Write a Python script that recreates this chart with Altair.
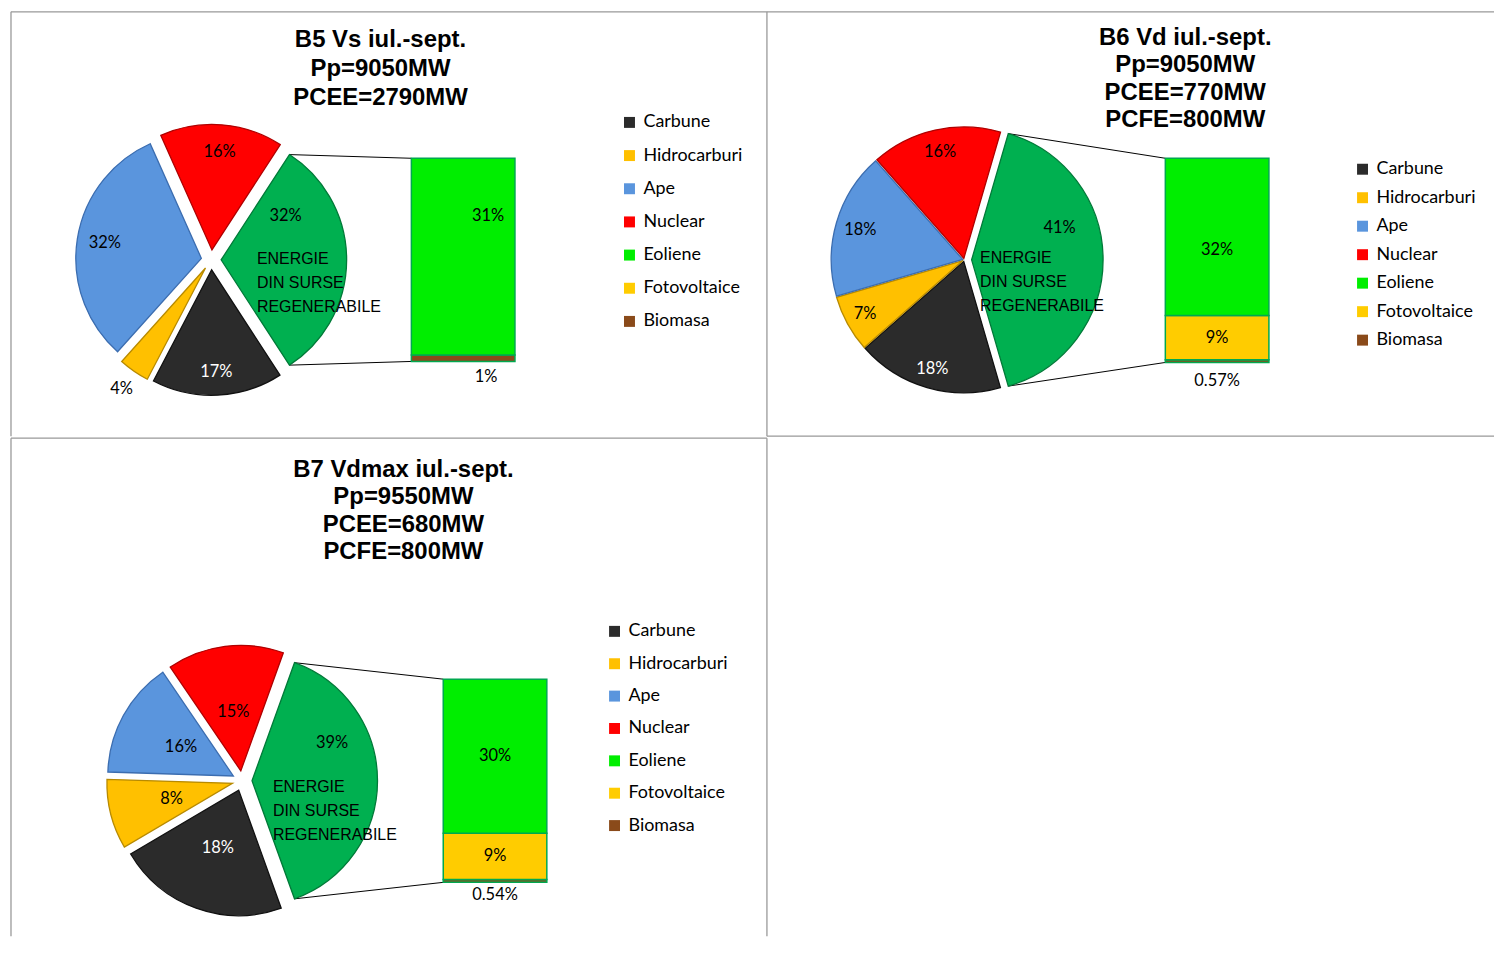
import math
import pandas as pd
import altair as alt

# ---------------- data ----------------
CATEGORIES = ["Carbune", "Hidrocarburi", "Ape", "Nuclear", "Eoliene",
              "Fotovoltaice", "Biomasa", "Regenerabile"]
LEGEND_ITEMS = ["Carbune", "Hidrocarburi", "Ape", "Nuclear", "Eoliene",
                "Fotovoltaice", "Biomasa"]
PIE_CATEGORIES = ["Regenerabile", "Carbune", "Hidrocarburi", "Ape", "Nuclear"]
BAR_CATEGORIES = ["Eoliene", "Fotovoltaice", "Biomasa"]
REGEN_TEXT = ["ENERGIE", "DIN SURSE", "\u00a0REGENERABILE"]

b5_title = ["B5 Vs iul.-sept.", "Pp=9050MW", "PCEE=2790MW"]
b5_pie_values = [32, 17, 4, 32, 16]
b5_pie_labels = ["32%", "17%", "4%", "32%", "16%"]
b5_bar_values = [31, 0, 1]
b5_bar_labels = ["31%", "", "1%"]

b6_title = ["B6 Vd iul.-sept.", "Pp=9050MW", "PCEE=770MW", "PCFE=800MW"]
b6_pie_values = [41, 18, 7, 18, 16]
b6_pie_labels = ["41%", "18%", "7%", "18%", "16%"]
b6_bar_values = [32, 9, 0.57]
b6_bar_labels = ["32%", "9%", "0.57%"]

b7_title = ["B7 Vdmax iul.-sept.", "Pp=9550MW", "PCEE=680MW", "PCFE=800MW"]
b7_pie_values = [39, 22, 9, 15, 15]
b7_pie_labels = ["39%", "18%", "8%", "16%", "15%"]
b7_bar_values = [30, 9, 0.54]
b7_bar_labels = ["30%", "9%", "0.54%"]

# ---------------- styles ----------------
FILLS = ["#2b2b2b", "#ffc000", "#5a95dd", "#ff0000", "#00ee00",
         "#ffcc00", "#8a4a1a", "#00b050"]
STROKES = ["#111111", "#b88a00", "#3b6db0", "#b00000", "#00a84f",
           "#00a84f", "#00a84f", "#007a38"]
GRID = "#999999"
LABEL_FONT = "Lato"
TITLE_FONT = "Liberation Sans"

LAYOUT = {
    "B5": dict(W=759, H=426, tx=371, ty=35, lh=29.5, cx=201, cy=249, R=126,
               explode=[10, 10, 10, 10, 10], lab_r=[78, 103, 148, 98, 99],
               lab_deg={0: 56}, en_dx=36, en_dy=4,
               bar_x=(402, 506), bar_y=(351, 147),
               top_dx=25, top_dy=-41, bio_dx=23, bio_dy=16,
               leg_x=612, leg_y=102, leg_pad=15.3,
               borders=["top", "left"]),
    "B6": dict(W=730, H=426, tx=420, ty=33, lh=27.7, cx=198, cy=249, R=132,
               explode=[7.5, 1.5, 1.5, 1.5, 1.5], lab_r=[94, 113, 112, 107, 109],
               lab_deg={0: 70}, en_dx=8.5, en_dy=3,
               bar_x=(400, 504), bar_y=(352, 147),
               top_dx=0, top_dy=13, bio_dx=0, bio_dy=19,
               leg_x=589, leg_y=149, leg_pad=10.6,
               borders=["top", "left", "bottom"]),
    "B7": dict(W=759, H=500, tx=394, ty=39, lh=27.5, cx=232, cy=344, R=126,
               explode=[10, 10, 10, 10, 10], lab_r=[89, 62, 63, 60, 60],
               lab_deg={0: 64.5}, en_dx=21, en_dy=11,
               bar_x=(434, 538), bar_y=(446, 242),
               top_dx=0, top_dy=0, bio_dx=0, bio_dy=13,
               leg_x=597, leg_y=185, leg_pad=14.5,
               borders=["top", "left", "right"]),
}


def build_panel(title, pie_values, pie_labels, bar_values, bar_labels, L):
    W, H, R = L["W"], L["H"], L["R"]
    total = sum(pie_values)
    start = math.pi / 2 - math.pi * pie_values[0] / total
    tscale = alt.Scale(domain=[0, total], range=[start, start + 2 * math.pi])
    xs = alt.Scale(domain=[0, W], range=[0, W], nice=False, zero=False)
    ys = alt.Scale(domain=[0, H], range=[0, H], nice=False, zero=False)
    cscale = alt.Scale(domain=CATEGORIES, range=FILLS)
    sscale = alt.Scale(domain=CATEGORIES, range=STROKES)
    legend = alt.Legend(values=LEGEND_ITEMS, orient="none", legendX=L["leg_x"],
                        legendY=L["leg_y"], title=None, symbolType="square",
                        symbolSize=121, symbolStrokeWidth=0, labelFont=LABEL_FONT,
                        labelFontSize=18, labelColor="black", labelOffset=5,
                        rowPadding=L["leg_pad"], padding=0)

    rows = []
    cum = 0.0
    for i, (c, v, lab) in enumerate(zip(PIE_CATEGORIES, pie_values, pie_labels)):
        t0, t1 = cum, cum + v
        cum = t1
        mid = start + 2 * math.pi * ((t0 + t1) / 2) / total
        e = L["explode"][i]
        vx = L["cx"] + e * math.sin(mid)
        vy = L["cy"] - e * math.cos(mid)
        if i in L["lab_deg"]:
            lt = (math.radians(L["lab_deg"][i]) - start) / (2 * math.pi) * total
        else:
            lt = (t0 + t1) / 2
        rows.append(dict(cat=c, t0=t0, t1=t1, vx=vx, vy=vy, lt=lt,
                         lr=L["lab_r"][i], lab=lab))
    pie = pd.DataFrame(rows)

    g = rows[0]
    a0 = start
    a1 = start + 2 * math.pi * pie_values[0] / total
    bx0, bx1 = L["bar_x"]
    bbot, btop = L["bar_y"]
    conn = pd.DataFrame([
        dict(x=g["vx"] + R * math.sin(a0), y=g["vy"] - R * math.cos(a0), x2=bx0, y2=btop),
        dict(x=g["vx"] + R * math.sin(a1), y=g["vy"] - R * math.cos(a1), x2=bx0, y2=bbot),
    ])

    one = pd.DataFrame([{"t": "\n".join(title)}])
    layers = []
    for b in L["borders"]:
        if b == "top":
            enc = dict(x=alt.value(0), x2=alt.value(W), y=alt.value(0))
        elif b == "bottom":
            enc = dict(x=alt.value(0), x2=alt.value(W), y=alt.value(H))
        elif b == "left":
            enc = dict(x=alt.value(0), y=alt.value(0), y2=alt.value(H))
        else:
            enc = dict(x=alt.value(W), y=alt.value(0), y2=alt.value(H))
        layers.append(alt.Chart(one).mark_rule(color=GRID, strokeWidth=1.3).encode(**enc))

    layers.append(alt.Chart(one).mark_text(
        lineBreak="\n", font=TITLE_FONT, fontWeight="bold", fontSize=24,
        lineHeight=L["lh"], align="center", baseline="alphabetic", color="black"
    ).encode(x=alt.value(L["tx"]), y=alt.value(L["ty"]), text="t:N"))

    layers.append(alt.Chart(conn).mark_rule(color="black", strokeWidth=1).encode(
        x=alt.X("x:Q", scale=xs, axis=None), y=alt.Y("y:Q", scale=ys, axis=None),
        x2="x2:Q", y2="y2:Q"))

    layers.append(alt.Chart(pie).mark_arc(radius=R, strokeWidth=1.3).encode(
        x=alt.X("vx:Q", scale=xs, axis=None),
        y=alt.Y("vy:Q", scale=ys, axis=None),
        theta=alt.Theta("t0:Q", scale=tscale),
        theta2="t1:Q",
        color=alt.Color("cat:N", scale=cscale, legend=legend),
        stroke=alt.Stroke("cat:N", scale=sscale, legend=None),
    ))

    layers.append(alt.Chart(pie).mark_text(
        font=LABEL_FONT, fontSize=16.5, align="center", baseline="middle"
    ).encode(
        x=alt.X("vx:Q", scale=xs, axis=None),
        y=alt.Y("vy:Q", scale=ys, axis=None),
        theta=alt.Theta("lt:Q", scale=tscale),
        radius=alt.Radius("lr:Q", scale=None),
        text="lab:N",
        color=alt.condition(alt.datum.cat == "Carbune", alt.value("white"), alt.value("black")),
    ))

    regen = pd.DataFrame([dict(vx=g["vx"], vy=g["vy"], t="\n".join(REGEN_TEXT))])
    layers.append(alt.Chart(regen).mark_text(
        lineBreak="\n", font=TITLE_FONT, fontSize=16, lineHeight=24, align="left",
        baseline="alphabetic", dx=L["en_dx"], dy=L["en_dy"], color="black"
    ).encode(x=alt.X("vx:Q", scale=xs, axis=None),
             y=alt.Y("vy:Q", scale=ys, axis=None), text="t:N"))

    pie_group = alt.layer(*layers)

    bar_rows = []
    cum = 0.0
    for c, v, lab in reversed(list(zip(BAR_CATEGORIES, bar_values, bar_labels))):
        if v <= 0:
            continue
        bar_rows.append(dict(cat=c, b0=cum, b1=cum + v, bm=cum + v / 2, lab=lab))
        cum += v
    bars = pd.DataFrame(bar_rows)
    bscale = alt.Scale(domain=[0, sum(bar_values)], range=[bbot, btop], nice=False, zero=False)
    bxc = (bx0 + bx1) / 2

    bar_layers = [alt.Chart(bars).mark_rect(stroke="#00a84f", strokeWidth=1.5).encode(
        x=alt.value(bx0), x2=alt.value(bx1),
        y=alt.Y("b0:Q", scale=bscale, axis=None), y2="b1:Q",
        color=alt.Color("cat:N", scale=cscale, legend=legend))]
    bar_layers.append(alt.Chart(bars).transform_filter(alt.datum.cat == "Eoliene").mark_text(
        font=LABEL_FONT, fontSize=16.5, align="center", baseline="middle", color="black",
        dx=L["top_dx"], dy=L["top_dy"]
    ).encode(x=alt.value(bxc), y=alt.Y("bm:Q", scale=bscale, axis=None), text="lab:N"))
    bar_layers.append(alt.Chart(bars).transform_filter(alt.datum.cat == "Fotovoltaice").mark_text(
        font=LABEL_FONT, fontSize=16.5, align="center", baseline="middle", color="black"
    ).encode(x=alt.value(bxc), y=alt.Y("bm:Q", scale=bscale, axis=None), text="lab:N"))
    bar_layers.append(alt.Chart(bars).transform_filter(alt.datum.cat == "Biomasa").mark_text(
        font=LABEL_FONT, fontSize=16.5, align="center", baseline="middle", color="black",
        dx=L["bio_dx"], dy=L["bio_dy"]
    ).encode(x=alt.value(bxc), y=alt.Y("b0:Q", scale=bscale, axis=None), text="lab:N"))
    bar_group = alt.layer(*bar_layers)

    return alt.layer(pie_group, bar_group).resolve_scale(y="independent").properties(
        width=W, height=H)


p5 = build_panel(b5_title, b5_pie_values, b5_pie_labels, b5_bar_values, b5_bar_labels, LAYOUT["B5"])
p6 = build_panel(b6_title, b6_pie_values, b6_pie_labels, b6_bar_values, b6_bar_labels, LAYOUT["B6"])
p7 = build_panel(b7_title, b7_pie_values, b7_pie_labels, b7_bar_values, b7_bar_labels, LAYOUT["B7"])

RES = dict(x="independent", y="independent", color="independent",
           stroke="independent", theta="independent")

top_row = alt.hconcat(p5, p6, spacing=0, bounds="flush").resolve_scale(**RES).resolve_legend(
    color="independent", stroke="independent")
chart = alt.vconcat(top_row, p7, spacing=0).resolve_scale(**RES).resolve_legend(
    color="independent", stroke="independent").properties(
    padding={"left": 2, "top": 1, "right": 0, "bottom": 0}
).configure_view(stroke=None)

chart.save("out.html", embed_options={"renderer": "svg", "actions": False})
